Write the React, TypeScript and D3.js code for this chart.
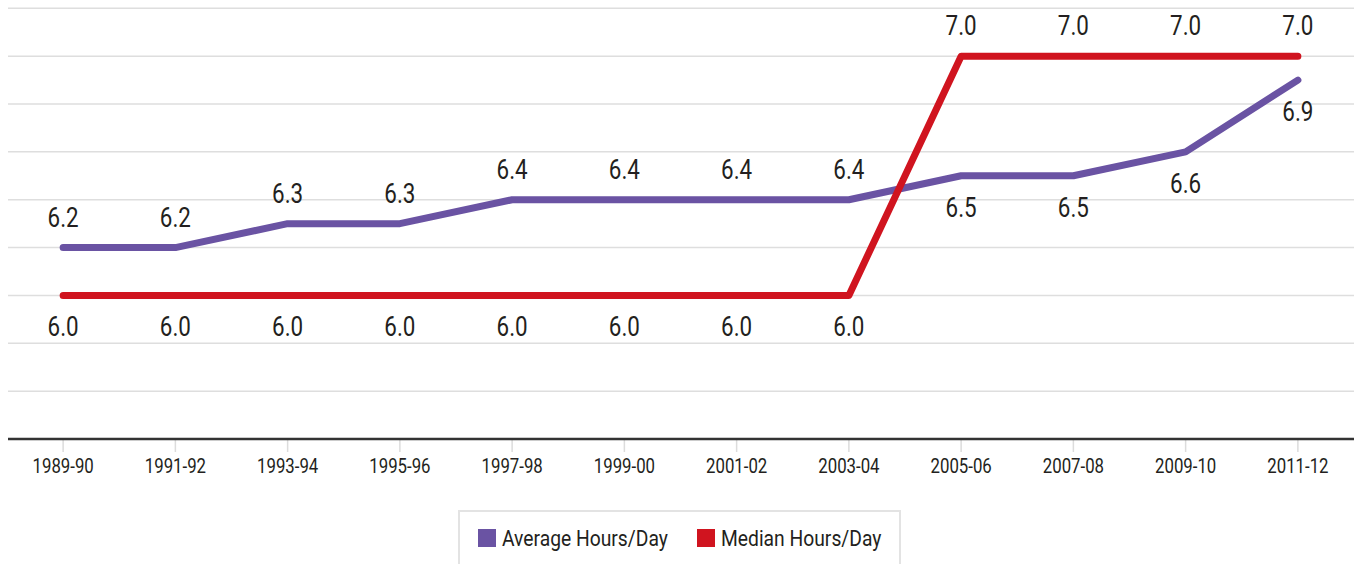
import React from "react";
import * as d3 from "d3";

const categories = ["1989-90","1991-92","1993-94","1995-96","1997-98","1999-00","2001-02","2003-04","2005-06","2007-08","2009-10","2011-12"];
const averageHours = [6.2,6.2,6.3,6.3,6.4,6.4,6.4,6.4,6.5,6.5,6.6,6.9];
const medianHours = [6.0,6.0,6.0,6.0,6.0,6.0,6.0,6.0,7.0,7.0,7.0,7.0];
const gridTicks = [5.4,5.6,5.8,6.0,6.2,6.4,6.6,6.8,7.0,7.2];
const seriesNames = ["Average Hours/Day","Median Hours/Day"];
const seriesColors = ["#6a53a3","#d0141f"];

const W = 1354, H = 564;
const FONT = "Roboto, 'Liberation Sans', sans-serif";
const TXT = "#231f20";
const SX = 0.8;
const LSX = 0.857;

export default function App() {
  const x = d3.scalePoint<string>().domain(categories).range([7, W]).padding(0.5);
  const y = d3.scaleLinear().domain([5.4, 7.2]).range([439, 8.3]);
  const line = d3.line<number>().x((_, i) => x(categories[i])!).y(d => y(d));
  const series = [averageHours, medianHours];

  const labels: { x: number; y: number; t: string }[] = [];
  categories.forEach((c, i) => {
    const a = averageHours[i], m = medianHours[i];
    const px = x(c)!;
    const aAbove = a >= m;
    labels.push({ x: px, y: aAbove ? y(a) - 21 : y(a) + 41, t: a.toFixed(1) });
    labels.push({ x: px, y: aAbove ? y(m) + 41 : y(m) - 21, t: m.toFixed(1) });
  });

  return (
    <svg width={W} height={H} style={{ position: "absolute", left: 0, top: 0, background: "#fff" }}>
      {gridTicks.slice(1).map(t => (
        <line key={t} x1={8} x2={W} y1={y(t)} y2={y(t)} stroke="#dedede" strokeWidth={1.5} />
      ))}
      {categories.map(c => (
        <line key={c} x1={x(c)} x2={x(c)} y1={440} y2={452} stroke="#dcdcdc" strokeWidth={1.5} />
      ))}
      <line x1={8} x2={W} y1={y(5.4)} y2={y(5.4)} stroke="#333" strokeWidth={2.5} />
      {categories.map(c => (
        <text key={c} transform={`translate(${x(c)},473) scale(${SX},1)`} textAnchor="middle"
          fontFamily={FONT} fontSize={21} fill={TXT}>{c}</text>
      ))}
      {series.map((s, k) => (
        <path key={k} d={line(s)!} fill="none" stroke={seriesColors[k]} strokeWidth={7}
          strokeLinecap="round" strokeLinejoin="round" />
      ))}
      {labels.map((l, i) => (
        <text key={i} transform={`translate(${l.x},${l.y}) scale(${SX},1)`} textAnchor="middle"
          fontFamily={FONT} fontSize={28} fill={TXT}>{l.t}</text>
      ))}
      <rect x={459} y={511} width={441} height={70} fill="#fff" stroke="#e3e3e3" strokeWidth={2} />
      <rect x={478} y={529} width={18} height={18} fill={seriesColors[0]} />
      <text transform={`translate(502,546) scale(${LSX},1)`} fontFamily={FONT} fontSize={22.5} fill={TXT}>{seriesNames[0]}</text>
      <rect x={697} y={529} width={18} height={18} fill={seriesColors[1]} />
      <text transform={`translate(721,546) scale(${LSX},1)`} fontFamily={FONT} fontSize={22.5} fill={TXT}>{seriesNames[1]}</text>
    </svg>
  );
}
